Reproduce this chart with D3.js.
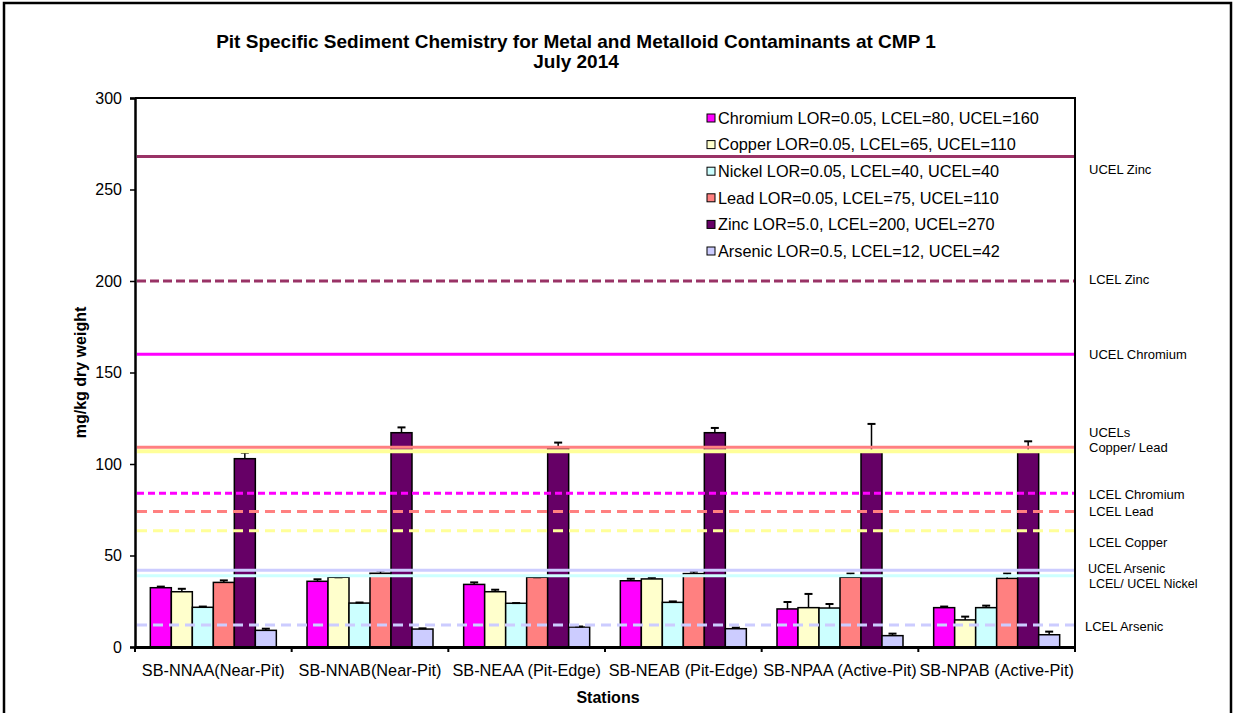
<!DOCTYPE html>
<html>
<head>
<meta charset="utf-8">
<script src="https://cdn.jsdelivr.net/npm/d3@7"></script>
<style>
  body { margin: 0; background: #fff; }
  svg text { font-family: "Liberation Sans", Arial, sans-serif; }
</style>
</head>
<body>
<div id="chart"></div>
<script>
const stations = ['SB-NNAA(Near-Pit)', 'SB-NNAB(Near-Pit)', 'SB-NEAA (Pit-Edge)',
                  'SB-NEAB (Pit-Edge)', 'SB-NPAA (Active-Pit)', 'SB-NPAB (Active-Pit)'];
const metals = ['Chromium', 'Copper', 'Nickel', 'Lead', 'Zinc', 'Arsenic'];
const legendText = [
  'Chromium LOR=0.05, LCEL=80, UCEL=160',
  'Copper LOR=0.05, LCEL=65, UCEL=110',
  'Nickel LOR=0.05, LCEL=40, UCEL=40',
  'Lead LOR=0.05, LCEL=75, UCEL=110',
  'Zinc LOR=5.0, LCEL=200, UCEL=270',
  'Arsenic LOR=0.5, LCEL=12, UCEL=42'
];
const metalColors = ['#ff00ff', '#ffffcc', '#ccffff', '#ff8080', '#660066', '#ccccff'];

// mean values per metal, one entry per station
const chromium = [32.4, 35.9, 34.2, 36.2, 20.8, 21.5];
const copper   = [30.2, 38.1, 30.2, 37.2, 21.5, 14.8];
const nickel   = [21.7, 24.0, 23.9, 24.4, 21.3, 21.5];
const lead     = [35.3, 40.3, 38.1, 40.1, 38.1, 37.5];
const zinc     = [102.9, 117.1, 108.6, 117.1, 106.7, 106.4];
const arsenic  = [9.1, 9.8, 10.9, 10.0, 6.2, 6.7];

// top of error bars
const chromiumErr = [33.0, 37.0, 35.3, 37.3, 24.6, 22.1];
const copperErr   = [31.8, 38.1, 31.3, 37.9, 29.0, 16.6];
const nickelErr   = [22.1, 24.3, 24.0, 24.9, 23.5, 22.6];
const leadErr     = [36.4, 41.7, 38.1, 41.2, 40.1, 40.1];
const zincErr     = [106.2, 120.0, 111.7, 119.7, 121.9, 112.4];
const arsenicErr  = [10.0, 10.2, 11.2, 10.6, 7.3, 8.4];

const seriesValues = [chromium, copper, nickel, lead, zinc, arsenic];
const seriesErrors = [chromiumErr, copperErr, nickelErr, leadErr, zincErr, arsenicErr];

// guideline values as drawn
const guideNames  = ['UCEL Zinc', 'LCEL Zinc', 'UCEL Chromium', 'UCEL Lead', 'UCEL Copper',
                     'LCEL Chromium', 'LCEL Lead', 'LCEL Copper', 'UCEL Arsenic', 'LCEL/UCEL Nickel', 'LCEL Arsenic'];
const guideValues = [268, 200, 160, 109.2, 107, 84, 74, 63.5, 42, 39, 12];
const guideColors = ['#993366', '#993366', '#ff00ff', '#ff8080', '#ffff99',
                     '#ff00ff', '#ff8080', '#ffff99', '#ccccff', '#ccffff', '#ccccff'];
const guideDashes = [null, '9,4', null, null, null, '7,4', '10,6', '10,6', null, null, '10,6'];

// annotation labels at right, anchored at a value on the y axis
const noteText   = ['UCEL Zinc', 'LCEL Zinc', 'UCEL Chromium', 'UCELs', 'Copper/ Lead', 'LCEL Chromium',
                    'LCEL Lead', 'LCEL Copper', 'UCEL Arsenic', 'LCEL/ UCEL Nickel', 'LCEL Arsenic'];
const noteValues = [260.7, 200.8, 160, 117.2, 108.9, 83.6, 73.8, 57.4, 42.7, 34.5, 11.5];

const yTicks = [0, 50, 100, 150, 200, 250, 300];

const W = 1233, H = 713;
const margin = { left: 135, right: 158, top: 98, bottom: 66 };
const plotR = W - margin.right, plotB = H - margin.bottom;

const svg = d3.select('#chart').append('svg')
  .attr('width', W).attr('height', H);

// outer frame
svg.append('rect')
  .attr('x', 4).attr('y', 3).attr('width', 1227).attr('height', 730)
  .attr('fill', 'none').attr('stroke', '#000').attr('stroke-width', 2.5);

const y = d3.scaleLinear().domain([0, 300]).range([plotB, margin.top]);
const x0 = d3.scaleBand().domain(stations).range([margin.left, plotR]).paddingInner(0).paddingOuter(0);
const x1 = d3.scaleBand().domain(metals).range([0, x0.bandwidth()]).paddingInner(0).paddingOuter(0.73);

// bars
const groups = svg.append('g').selectAll('g')
  .data(stations)
  .join('g')
  .attr('transform', d => `translate(${x0(d)},0)`);

groups.selectAll('rect')
  .data((s, i) => metals.map((m, k) => ({ metal: m, k, v: seriesValues[k][i], e: seriesErrors[k][i] })))
  .join('rect')
  .attr('x', d => x1(d.metal))
  .attr('y', d => y(d.v))
  .attr('width', x1.bandwidth())
  .attr('height', d => y(0) - y(d.v))
  .attr('fill', d => metalColors[d.k])
  .attr('stroke', '#000')
  .attr('stroke-width', 1.5);

// error bars
const eb = groups.selectAll('g.err')
  .data((s, i) => metals.map((m, k) => ({ metal: m, v: seriesValues[k][i], e: seriesErrors[k][i] })))
  .join('g').attr('class', 'err');
eb.append('line')
  .attr('x1', d => x1(d.metal) + x1.bandwidth() / 2)
  .attr('x2', d => x1(d.metal) + x1.bandwidth() / 2)
  .attr('y1', d => y(d.v)).attr('y2', d => y(d.e))
  .attr('stroke', '#000').attr('stroke-width', 1.5);
eb.append('line')
  .attr('x1', d => x1(d.metal) + x1.bandwidth() / 2 - 4)
  .attr('x2', d => x1(d.metal) + x1.bandwidth() / 2 + 4)
  .attr('y1', d => y(d.e)).attr('y2', d => y(d.e))
  .attr('stroke', '#000').attr('stroke-width', 2);

// guideline lines drawn over bars
svg.append('g').selectAll('line')
  .data(guideValues)
  .join('line')
  .attr('x1', margin.left + 2).attr('x2', plotR - 1)
  .attr('y1', d => y(d)).attr('y2', d => y(d))
  .attr('stroke', (d, i) => guideColors[i])
  .attr('stroke-width', (d, i) => i === 4 ? 4 : 3)
  .attr('stroke-dasharray', (d, i) => guideDashes[i]);

// plot border (top + right)
svg.append('path')
  .attr('d', `M${margin.left},${margin.top}H${plotR}V${plotB}`)
  .attr('fill', 'none').attr('stroke', '#000').attr('stroke-width', 2);

// y axis
const yAxis = svg.append('g')
  .attr('transform', `translate(${margin.left},0)`)
  .call(d3.axisLeft(y).tickValues(yTicks).tickSize(5).tickPadding(8));
yAxis.select('.domain').attr('stroke-width', 2.5);
yAxis.selectAll('.tick line').attr('stroke-width', 1.5);
yAxis.selectAll('text').attr('font-size', 16).attr('fill', '#000')
  .attr('font-family', '"Liberation Sans", Arial, sans-serif');

// x axis
const xAxis = svg.append('g')
  .attr('transform', `translate(0,${plotB})`)
  .call(d3.axisBottom(x0).tickSize(0).tickPadding(17));
xAxis.select('.domain').attr('stroke-width', 3);
xAxis.selectAll('text').attr('font-size', 16.3).attr('fill', '#000')
  .attr('font-family', '"Liberation Sans", Arial, sans-serif');
svg.append('g').selectAll('line')
  .data(d3.range(stations.length + 1))
  .join('line')
  .attr('x1', i => margin.left + i * x0.bandwidth())
  .attr('x2', i => margin.left + i * x0.bandwidth())
  .attr('y1', plotB).attr('y2', plotB + 5)
  .attr('stroke', '#000').attr('stroke-width', 2);

// titles
svg.append('text').attr('x', 576).attr('y', 48).attr('text-anchor', 'middle')
  .attr('font-size', 19).attr('font-weight', 'bold')
  .text('Pit Specific Sediment Chemistry for Metal and Metalloid Contaminants at CMP 1');
svg.append('text').attr('x', 576).attr('y', 68).attr('text-anchor', 'middle')
  .attr('font-size', 19).attr('font-weight', 'bold')
  .text('July 2014');
svg.append('text').attr('x', (margin.left + plotR) / 2 + 3).attr('y', 703).attr('text-anchor', 'middle')
  .attr('font-size', 16).attr('font-weight', 'bold').text('Stations');
svg.append('text')
  .attr('transform', `translate(86,${(margin.top + plotB) / 2}) rotate(-90)`)
  .attr('text-anchor', 'middle').attr('font-size', 16).attr('font-weight', 'bold')
  .text('mg/kg dry weight');

// legend
const leg = svg.append('g').selectAll('g')
  .data(legendText)
  .join('g')
  .attr('transform', (d, i) => `translate(707,${118 + i * 26.6})`);
leg.append('rect').attr('x', 0).attr('y', -4).attr('width', 8).attr('height', 8)
  .attr('fill', (d, i) => metalColors[i]).attr('stroke', '#000').attr('stroke-width', 1);
leg.append('text').attr('x', 11).attr('dy', '0.36em')
  .attr('font-size', 16.3).text(d => d);

// right-side notes
svg.append('g').selectAll('text')
  .data(noteText)
  .join('text')
  .attr('x', (d, i) => i === 10 ? 1085 : (i === 8 ? 1088 : 1089))
  .attr('y', (d, i) => y(noteValues[i]))
  .attr('dy', '0.35em')
  .attr('font-size', (d, i) => i === 8 || i === 9 ? 12.5 : 13)
  .text(d => d);
</script>
</body>
</html>
